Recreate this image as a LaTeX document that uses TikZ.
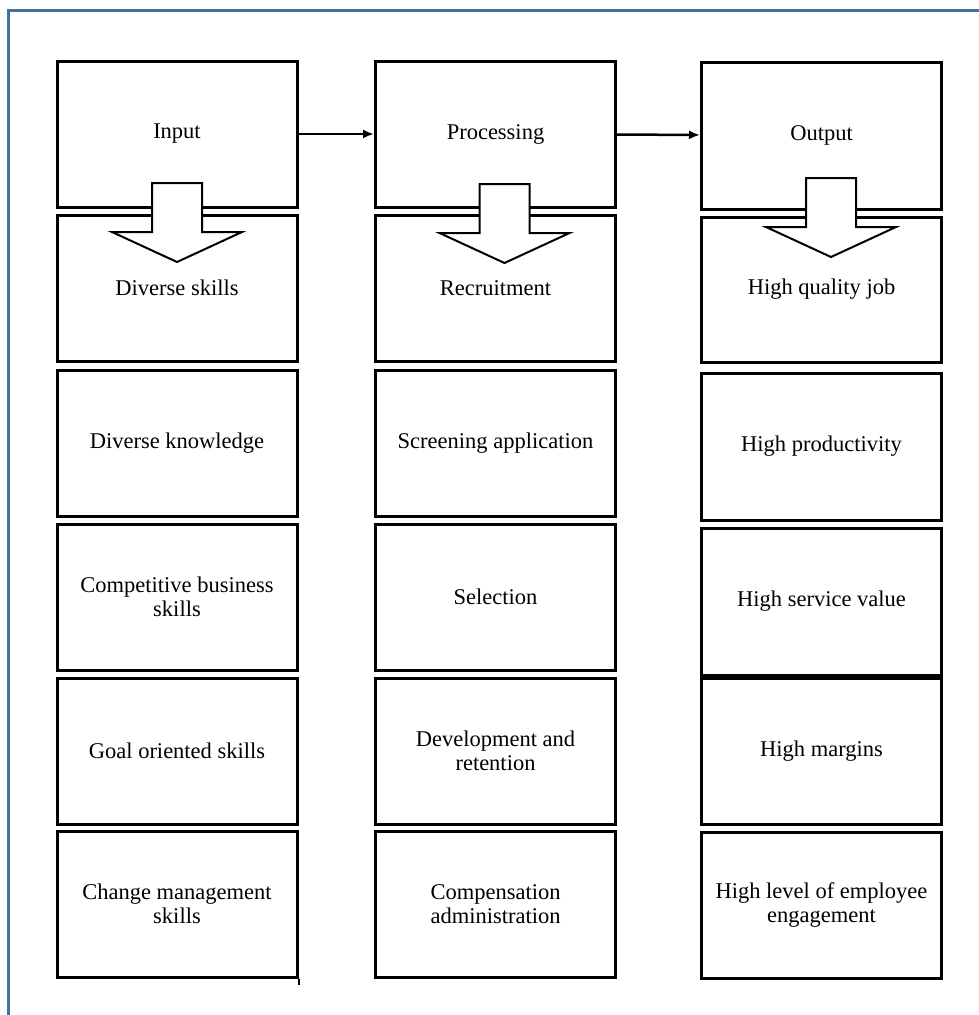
\documentclass[tikz,border=0pt]{standalone}
\usepackage{fontspec}
\setmainfont{Liberation Serif}
\usetikzlibrary{arrows.meta}

\begin{document}
\begin{tikzpicture}[x=1pt,y=-1pt,
  every node/.style={font=\fontsize{22.5}{23.5}\selectfont},
  box/.style={draw,line width=3pt,minimum width=240pt,minimum height=146pt,
    align=center,inner sep=0pt},
  flow/.style={line width=2.5pt,-{Latex[length=11pt,width=9pt]}},
  blockarr/.style={draw,fill=white,line width=2pt,line join=miter},
  frame/.style={draw={rgb,255:red,65;green,113;blue,156},line width=3pt}]
  \useasboundingbox (0,0) rectangle (979,1015);
  \draw[frame] (979,10) -- (8.5,10) -- (8.5,1015);

  % input column
  \node[box] (in1) at (177,134) {Input};
  \node[box] (in2) at (177,288) {Diverse skills};
  \node[box] (in3) at (177,443) {Diverse knowledge};
  \node[box] (in4) at (177,597) {Competitive business\\skills};
  \node[box] (in5) at (177,751) {Goal oriented skills};
  \node[box] (in6) at (177,904) {Change management\\skills};
  \draw[line width=2pt] (in6.south east) -- ++(0,6);

  % processing column
  \node[box] (pr1) at (495.5,134) {Processing};
  \node[box] (pr2) at (495.5,288) {Recruitment};
  \node[box] (pr3) at (495.5,443) {Screening application};
  \node[box] (pr4) at (495.5,597) {Selection};
  \node[box] (pr5) at (495.5,751) {Development and\\retention};
  \node[box] (pr6) at (495.5,904) {Compensation\\administration};

  % output column
  \node[box,minimum height=147pt] (out1) at (821.5,135.5) {Output};
  \node[box,minimum height=145pt] (out2) at (821.5,289.5) {High quality job};
  \node[box,minimum height=147pt] (out3) at (821.5,446.5) {High productivity};
  \node[box,minimum height=147pt] (out4) at (821.5,601.5) {High service value};
  \node[box] (out5) at (821.5,751) {High margins};
  \node[box] (out6) at (821.5,905) {High level of employee\\engagement};

  \draw[flow] (in1) -- (pr1);
  \draw[flow] (pr1) -- (out1);

  % block arrows over the first two rows
  \foreach \c/\t in {177/183,504.5/184,831/178} {
    \draw[blockarr] ({\c-25},\t) -- ({\c+25},\t) -- ({\c+25},\t+49)
      -- ({\c+65},\t+49) -- (\c,\t+79) -- ({\c-65},\t+49)
      -- ({\c-25},\t+49) -- cycle;
  }
\end{tikzpicture}
\end{document}
